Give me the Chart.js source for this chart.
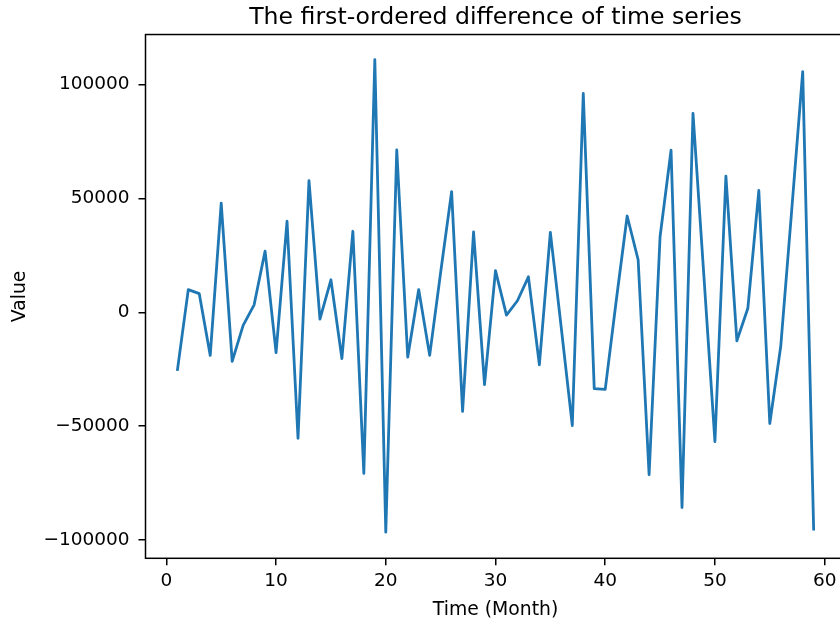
<!DOCTYPE html>
<html><head><meta charset="utf-8">
<script src="https://cdn.jsdelivr.net/npm/chart.js@4/dist/chart.umd.min.js"></script>
<style>html,body{margin:0;padding:0;overflow:hidden;background:#fff}#wrap{width:860px;height:621px}</style>
</head><body><div id="wrap"><canvas id="c" width="860" height="621"></canvas></div>
<script>
const months = [1,2,3,4,5,6,7,8,9,10,11,12,13,14,15,16,17,18,19,20,21,22,23,24,25,26,27,28,29,30,31,32,33,34,35,36,37,38,39,40,41,42,43,44,45,46,47,48,49,50,51,52,53,54,55,56,57,58,59];
const diffValues = [-25700,10000,8200,-18900,48000,-21500,-5700,3300,26900,-17700,
  40000,-55300,57800,-3000,14300,-20300,35600,-70700,111000,-96500,
  71300,-19700,10000,-18900,17500,53000,-43500,35300,-31700,18300,
  -1200,5100,15600,-23000,35100,-7000,-49700,96100,-33500,-33800,
  5000,42300,23100,-71300,33300,71200,-85700,87400,15500,-56800,
  59800,-12500,1800,53500,-48800,-14800,45000,105700,-95800];
const xTicks = [0,10,20,30,40,50,60];
const yTicks = [-100000,-50000,0,50000,100000];
const titleText = 'The first-ordered difference of time series';
const xLabel = 'Time (Month)';
const yLabel = 'Value';

const FONT = 'DejaVu Sans';
const spines = {
  id: 'spines',
  afterDraw(chart) {
    const {ctx, chartArea: a} = chart;
    ctx.save();
    ctx.strokeStyle = '#000';
    ctx.lineWidth = 1.5;
    ctx.strokeRect(a.left, a.top, a.right - a.left, a.bottom - a.top);
    ctx.restore();
  }
};

new Chart(document.getElementById('c'), {
  type: 'line',
  data: {
    datasets: [{
      data: months.map((m, i) => ({x: m, y: diffValues[i]})),
      borderColor: '#1f77b4',
      borderWidth: 2.8,
      pointRadius: 0,
      tension: 0,
      fill: false,
      borderJoinStyle: 'round',
      borderCapStyle: 'butt'
    }]
  },
  options: {
    responsive: false,
    animation: false,
    devicePixelRatio: 1,
    layout: {padding: {left: 0, right: 14.5, top: 0, bottom: 0}},
    plugins: {
      legend: {display: false},
      tooltip: {enabled: false},
      title: {
        display: true, text: titleText, fullSize: false, color: '#000',
        font: {family: FONT, size: 23.6, weight: 'normal', lineHeight: 1.2},
        padding: {top: 3.5, bottom: 2.7}
      }
    },
    scales: {
      x: {
        type: 'linear', min: -1.9, max: 61.9,
        afterBuildTicks: s => { s.ticks = xTicks.map(v => ({value: v})); },
        afterFit: s => { s.height = 62.7; },
        ticks: {color: '#000', font: {family: FONT, size: 18.5}, padding: 5, maxRotation: 0, autoSkip: false,
                callback: v => String(v)},
        grid: {drawOnChartArea: false, drawTicks: true, tickLength: 7, tickWidth: 1.5, tickColor: '#000', lineWidth: 1.5},
        border: {display: false},
        title: {display: true, text: xLabel, color: '#000', font: {family: FONT, size: 18.8, lineHeight: 1.2}, padding: {top: 0, bottom: 0}}
      },
      y: {
        type: 'linear', min: -108000, max: 122000,
        afterBuildTicks: s => { s.ticks = yTicks.map(v => ({value: v})); },
        afterFit: s => { s.width = 145.5; },
        ticks: {color: '#000', font: {family: FONT, size: 18.5}, padding: 9, autoSkip: false,
                callback: v => String(v).replace('-', '\u2212')},
        grid: {drawOnChartArea: false, drawTicks: true, tickLength: 7, tickWidth: 1.5, tickColor: '#000', lineWidth: 1.5},
        border: {display: false},
        title: {display: true, text: yLabel, color: '#000', font: {family: FONT, size: 18.8, lineHeight: 1.2}, padding: {top: 9, bottom: 0}}
      }
    }
  },
  plugins: [spines]
});
</script>
</body></html>
